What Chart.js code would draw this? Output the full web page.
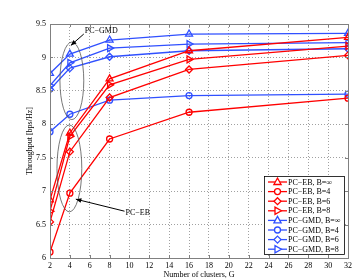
<!DOCTYPE html>
<html>
<head>
<meta charset="utf-8">
<script src="https://cdn.jsdelivr.net/npm/chart.js@4.4.1/dist/chart.umd.min.js"></script>
<style>
  html, body { margin: 0; padding: 0; background: #fff; }
  #wrap { width: 357px; height: 280px; }
</style>
</head>
<body>
<div id="wrap"><canvas id="myChart" width="357" height="280"></canvas></div>
<script>
// clusters G
const clusters = [2, 4, 8, 16, 32];
const xTicks = [2, 4, 6, 8, 10, 12, 14, 16, 18, 20, 22, 24, 26, 28, 30, 32];
const yTicks = [6, 6.5, 7, 7.5, 8, 8.5, 9, 9.5];

// PC-EB
const ebInf = [6.87, 7.87, 8.68, 9.10, 9.30];
const eb4   = [6.09, 6.97, 7.78, 8.18, 8.39];
const eb6   = [6.54, 7.59, 8.40, 8.82, 9.03];
const eb8   = [6.70, 7.82, 8.59, 8.97, 9.17];
// PC-GMD
const gmdInf = [8.76, 9.05, 9.26, 9.35, 9.36];
const gmd4   = [7.89, 8.15, 8.36, 8.43, 8.45];
const gmd6   = [8.52, 8.84, 9.01, 9.10, 9.13];
const gmd8   = [8.58, 8.92, 9.14, 9.20, 9.22];

const RED = '#ff0000';
const BLUE = '#3050ff';
const FONT = '"Liberation Serif", "DejaVu Serif", serif';

function pts(arr) {
  return arr.map(function (v, i) { return { x: clusters[i], y: v }; });
}

function ds(label, arr, color, marker) {
  var style = 'circle', rot = 0, r = 3;
  if (marker === 'up') { style = 'triangle'; r = 4; }
  if (marker === 'right') { style = 'triangle'; rot = 90; r = 4; }
  if (marker === 'diamond') { style = 'rectRot'; r = 3.5; }
  return {
    label: label,
    data: pts(arr),
    showLine: true,
    borderColor: color,
    borderWidth: 1.3,
    pointStyle: style,
    pointRotation: rot,
    pointRadius: r,
    pointBorderWidth: 1.3,
    pointBorderColor: color,
    pointBackgroundColor: 'rgba(255,255,255,0)',
    marker: marker
  };
}

const datasets = [
  ds('PC\u2212EB, B=\u221e', ebInf, RED, 'up'),
  ds('PC\u2212EB, B=4', eb4, RED, 'circle'),
  ds('PC\u2212EB, B=6', eb6, RED, 'diamond'),
  ds('PC\u2212EB, B=8', eb8, RED, 'right'),
  ds('PC\u2212GMD, B=\u221e', gmdInf, BLUE, 'up'),
  ds('PC\u2212GMD, B=4', gmd4, BLUE, 'circle'),
  ds('PC\u2212GMD, B=6', gmd6, BLUE, 'diamond'),
  ds('PC\u2212GMD, B=8', gmd8, BLUE, 'right')
];

function drawMarker(ctx, kind, x, y, color) {
  ctx.save();
  ctx.strokeStyle = color;
  ctx.lineWidth = 1.3;
  ctx.beginPath();
  if (kind === 'circle') {
    ctx.arc(x, y, 3, 0, Math.PI * 2);
  } else if (kind === 'up') {
    ctx.moveTo(x, y - 4); ctx.lineTo(x + 3.6, y + 2.5); ctx.lineTo(x - 3.6, y + 2.5); ctx.closePath();
  } else if (kind === 'right') {
    ctx.moveTo(x + 4, y); ctx.lineTo(x - 2.5, y + 3.6); ctx.lineTo(x - 2.5, y - 3.6); ctx.closePath();
  } else {
    ctx.moveTo(x, y - 3.5); ctx.lineTo(x + 3.5, y); ctx.lineTo(x, y + 3.5); ctx.lineTo(x - 3.5, y); ctx.closePath();
  }
  ctx.fillStyle = '#fff';
  ctx.fill();
  ctx.stroke();
  ctx.restore();
}

function arrow(ctx, x1, y1, x2, y2) {
  ctx.save();
  ctx.strokeStyle = '#000';
  ctx.fillStyle = '#000';
  ctx.lineWidth = 1;
  ctx.beginPath(); ctx.moveTo(x1, y1); ctx.lineTo(x2, y2); ctx.stroke();
  var a = Math.atan2(y2 - y1, x2 - x1);
  ctx.beginPath();
  ctx.moveTo(x2, y2);
  ctx.lineTo(x2 - 6 * Math.cos(a - 0.4), y2 - 6 * Math.sin(a - 0.4));
  ctx.lineTo(x2 - 6 * Math.cos(a + 0.4), y2 - 6 * Math.sin(a + 0.4));
  ctx.closePath(); ctx.fill();
  ctx.restore();
}

// box frame, ellipses, arrows and legend
const extras = {
  id: 'extras',
  afterDraw: function (chart) {
    var ctx = chart.ctx, a = chart.chartArea;
    var xs = chart.scales.x, ys = chart.scales.y;

    // frame + inner ticks
    ctx.save();
    ctx.strokeStyle = '#808080';
    ctx.lineWidth = 1;
    ctx.strokeRect(a.left + 0.5, a.top + 0.5, a.right - a.left, a.bottom - a.top);
    ctx.beginPath();
    yTicks.forEach(function (t) {
      var py = Math.round(ys.getPixelForValue(t)) + 0.5;
      ctx.moveTo(a.left, py); ctx.lineTo(a.left + 3, py);
      ctx.moveTo(a.right, py); ctx.lineTo(a.right - 3, py);
    });
    xTicks.forEach(function (t) {
      var px = Math.round(xs.getPixelForValue(t)) + 0.5;
      ctx.moveTo(px, a.top); ctx.lineTo(px, a.top + 3);
      ctx.moveTo(px, a.bottom); ctx.lineTo(px, a.bottom - 3);
    });
    ctx.stroke();
    ctx.restore();

    // ellipses
    ctx.save();
    ctx.strokeStyle = '#555';
    ctx.lineWidth = 0.8;
    function ell(x0, x1, y0, y1) {
      var cx = (xs.getPixelForValue(x0) + xs.getPixelForValue(x1)) / 2;
      var cy = (ys.getPixelForValue(y0) + ys.getPixelForValue(y1)) / 2;
      var rx = Math.abs(xs.getPixelForValue(x1) - xs.getPixelForValue(x0)) / 2;
      var ry = Math.abs(ys.getPixelForValue(y1) - ys.getPixelForValue(y0)) / 2;
      ctx.beginPath(); ctx.ellipse(cx, cy, rx, ry, 0, 0, Math.PI * 2); ctx.stroke();
    }
    ell(3.0, 5.4, 9.23, 8.07);
    ell(2.7, 5.2, 7.99, 6.69);
    ctx.restore();

    ctx.save();
    ctx.font = '8px ' + FONT;
    ctx.fillStyle = '#000';
    ctx.textBaseline = 'middle';
    ctx.fillText('PC\u2212GMD', xs.getPixelForValue(5.5), ys.getPixelForValue(9.40));
    ctx.fillText('PC\u2212EB', xs.getPixelForValue(9.6), ys.getPixelForValue(6.68));
    ctx.restore();
    arrow(ctx, xs.getPixelForValue(5.4), ys.getPixelForValue(9.35), xs.getPixelForValue(4.1), ys.getPixelForValue(9.18));
    arrow(ctx, xs.getPixelForValue(9.5), ys.getPixelForValue(6.70), xs.getPixelForValue(4.6), ys.getPixelForValue(6.88));

    // legend
    var lx = 264, ly = 176, lw = 80, lh = 78;
    ctx.save();
    ctx.fillStyle = '#fff';
    ctx.fillRect(lx, ly, lw, lh);
    ctx.strokeStyle = '#000';
    ctx.lineWidth = 0.8;
    ctx.strokeRect(lx + 0.5, ly + 0.5, lw, lh);
    ctx.font = '8px ' + FONT;
    ctx.textBaseline = 'middle';
    chart.data.datasets.forEach(function (d, i) {
      var yy = ly + 6 + i * 9.6;
      ctx.strokeStyle = d.borderColor;
      ctx.lineWidth = 1.3;
      ctx.beginPath(); ctx.moveTo(lx + 4, yy); ctx.lineTo(lx + 23, yy); ctx.stroke();
      drawMarker(ctx, d.marker, lx + 13.5, yy, d.borderColor);
      ctx.fillStyle = '#000';
      ctx.fillText(d.label, lx + 24, yy + 0.5);
    });
    ctx.restore();
  }
};

const ctx = document.getElementById('myChart');
new Chart(ctx, {
  type: 'scatter',
  data: { datasets: datasets },
  plugins: [extras],
  options: {
    responsive: false,
    animation: false,
    layout: { padding: { top: 24, right: 9, left: 25, bottom: 0 } },
    plugins: { legend: { display: false }, tooltip: { enabled: false } },
    scales: {
      x: {
        type: 'linear', min: 2, max: 32,
        afterBuildTicks: function (s) { s.ticks = xTicks.map(function (v) { return { value: v }; }); },
        afterFit: function (s) { s.height = 22; },
        grid: { color: '#a0a0a0', drawTicks: false },
        border: { display: true, color: '#808080', dash: [1, 2] },
        ticks: { font: { family: FONT, size: 8 }, color: '#000', padding: 3, maxRotation: 0, autoSkip: false,
                 callback: function (v) { return String(v); } },
        title: { display: true, text: 'Number of clusters, G', font: { family: FONT, size: 8 }, color: '#000', padding: { top: 0, bottom: 0 } }
      },
      y: {
        type: 'linear', min: 6, max: 9.5,
        afterBuildTicks: function (s) { s.ticks = yTicks.map(function (v) { return { value: v }; }); },
        afterFit: function (s) { s.width = 25; },
        grid: { color: '#a0a0a0', drawTicks: false },
        border: { display: true, color: '#808080', dash: [1, 2] },
        ticks: { font: { family: FONT, size: 8 }, color: '#000', padding: 4,
                 callback: function (v) { return String(v); } },
        title: { display: true, text: 'Throughput [bps/Hz]', font: { family: FONT, size: 8 }, color: '#000', padding: { top: 0, bottom: 0 } }
      }
    }
  }
});
</script>
</body>
</html>
